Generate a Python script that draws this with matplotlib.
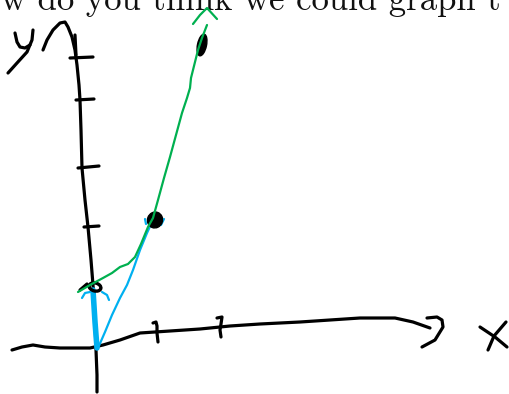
import matplotlib
matplotlib.use("Agg")
import matplotlib.pyplot as plt
from matplotlib.patches import Ellipse

# Whiteboard sketch, coordinates in canvas pixels (y grows downward)
W, H = 510, 394

caption = "w do you think we could graph t"

# black ink: axes, ticks and axis letters
y_axis = [(43, 50), (47, 40), (53, 30), (60, 23), (65, 22), (68, 27), (72, 37), (75, 50),
          (77, 65), (79, 85), (80, 100), (81, 130), (82, 168), (85, 200), (88, 227),
          (91, 260), (93, 285), (95, 320), (96, 350), (97, 375), (97, 392)]
y_axis_top = [(75, 35), (76, 55)]
y_ticks = [[(70, 58), (93, 57)], [(76, 100), (94, 99)],
           [(78, 168), (99, 166)], [(84, 227), (99, 226)]]
y_letter = [[(15, 33), (17, 42), (20, 47), (25, 48), (30, 45)],
            [(33, 30), (32, 40), (27, 52), (17, 63), (8, 73)]]
x_axis = [(12, 350), (22, 347), (33, 345), (45, 347), (60, 348), (75, 348), (90, 348),
          (103, 345), (120, 340), (140, 333), (170, 331), (200, 329), (230, 326),
          (260, 324), (300, 322), (330, 320), (360, 318), (395, 318), (413, 322), (430, 328)]
x_arrow = [(427, 318), (437, 317), (442, 320), (443, 327), (435, 340), (422, 347)]
x_ticks = [[(153, 323), (156, 322), (157, 326), (157, 333), (158, 342)],
           [(217, 318), (222, 317), (221, 324), (220, 330), (221, 337)]]
x_letter = [[(480, 327), (495, 337), (507, 347)],
            [(506, 322), (494, 336), (488, 350)]]
origin_mark = [(80, 290), (87, 284)]

# green curve through the plotted points
green_curve = [(78, 292), (90, 285), (103, 278), (112, 273), (120, 267), (128, 264),
               (135, 257), (141, 244), (148, 227), (153, 218), (158, 200), (164, 178),
               (170, 157), (176, 135), (182, 113), (187, 98), (190, 88), (191, 78),
               (193, 70), (198, 50), (202, 38), (207, 25)]
green_caret = [(193, 24), (200, 15), (207, 8), (217, 19)]

# blue curve
blue_thick = [(93, 290), (95, 322), (97, 348)]
blue_thin = [(98, 348), (105, 332), (112, 315), (120, 298), (127, 285), (133, 270),
             (140, 250), (147, 233), (152, 222)]
blue_arcs = [[(82, 298), (85, 293), (90, 292)], [(102, 292), (107, 295), (109, 300)],
             [(146, 224), (145, 219)], [(161, 225), (164, 219)]]

# black dots: (centre, width, height, angle)
dots = [((155, 220), 15, 16, 20), ((202, 45), 9, 22, 12)]
origin_ring = ((95, 287), 12, 8, 15)

BLACK = "#000000"
GREEN = "#00b050"
BLUE = "#00b0f0"

fig = plt.figure(figsize=(W / 100, H / 100), dpi=100)
ax = fig.add_axes([0, 0, 1, 1])
ax.set_xlim(0, W)
ax.set_ylim(H, 0)
ax.axis("off")


def stroke(pts, color, lw, z=2):
    xs, ys = zip(*pts)
    ax.plot(xs, ys, color=color, lw=lw, solid_capstyle="round",
            solid_joinstyle="round", zorder=z)


ax.text(1, 9.8, caption, fontfamily="cmr10", fontsize=25, color="#111111",
        ha="left", va="baseline")

for s in [y_axis, y_axis_top, x_axis, x_arrow, origin_mark] + y_ticks + y_letter + x_ticks + x_letter:
    stroke(s, BLACK, 2.3)

stroke(blue_thick, BLUE, 4.0, z=3)
stroke(blue_thin, BLUE, 1.6, z=3)
for s in blue_arcs:
    stroke(s, BLUE, 1.6, z=3)

for (c, w, h, a) in dots:
    ax.add_patch(Ellipse(c, w, h, angle=a, facecolor=BLACK, edgecolor=BLACK, zorder=4))
c, w, h, a = origin_ring
ax.add_patch(Ellipse(c, w, h, angle=a, facecolor="none", edgecolor=BLACK, lw=2.4, zorder=4))

stroke(green_curve, GREEN, 1.6, z=5)
stroke(green_caret, GREEN, 1.6, z=5)

fig.savefig("out.png", dpi=100)
